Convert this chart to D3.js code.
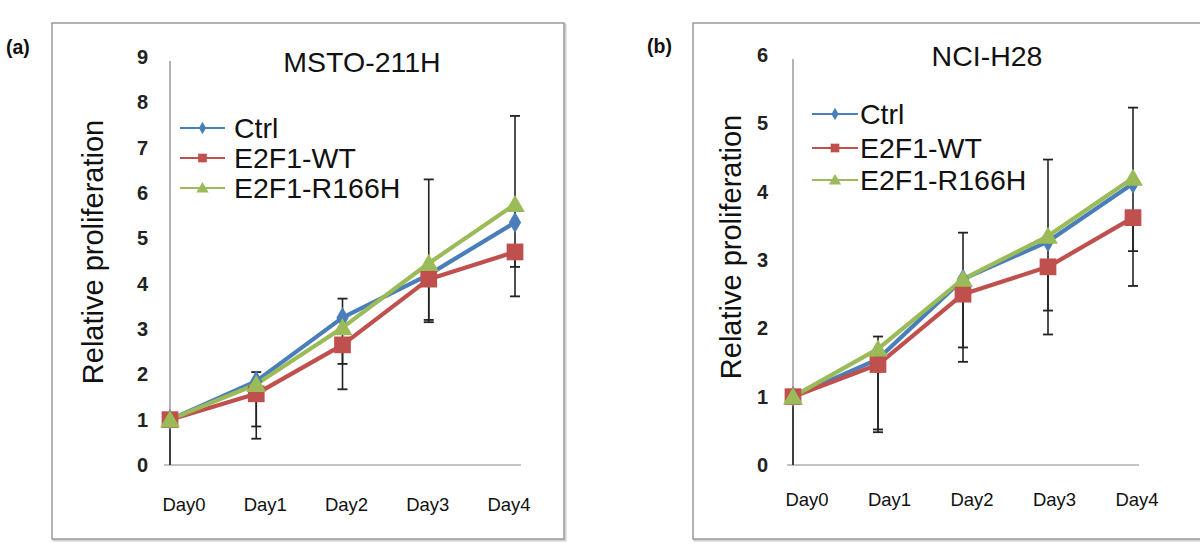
<!DOCTYPE html>
<html><head><meta charset="utf-8">
<script src="https://cdn.jsdelivr.net/npm/d3@7"></script>
<style>body{margin:0;background:#fff}svg{display:block}</style>
</head><body>
<svg id="c" width="1200" height="556"></svg>
<script>
// ---------- data ----------
const days = ["Day0", "Day1", "Day2", "Day3", "Day4"];
const seriesNames = ["Ctrl", "E2F1-WT", "E2F1-R166H"];
const yTicksA = [0, 1, 2, 3, 4, 5, 6, 7, 8, 9];
const yTicksB = [0, 1, 2, 3, 4, 5, 6];

// Panel (a) MSTO-211H
const ctrlA  = [1.00, 1.85, 3.25, 4.20, 5.35];
const wtA    = [1.00, 1.57, 2.65, 4.10, 4.70];
const r166A  = [1.00, 1.78, 3.03, 4.45, 5.75];
const ctrlUpA   = [0.00, 0.20, 0.42, 2.10, 2.35];
const wtDownA   = [1.00, 0.72, 0.42, 0.90, 0.98];
const r166DownA = [0.00, 1.20, 1.36, 1.30, 1.38];

// Panel (b) NCI-H28
const ctrlB  = [1.00, 1.55, 2.72, 3.27, 4.12];
const wtB    = [1.00, 1.47, 2.50, 2.90, 3.62];
const r166B  = [1.00, 1.70, 2.72, 3.35, 4.20];
const ctrlUpB   = [0.00, 0.33, 0.68, 1.20, 1.11];
const wtDownB   = [1.00, 0.99, 0.99, 0.99, 1.00];
const r166DownB = [0.00, 1.18, 1.00, 1.09, 1.07];

// ---------- drawing ----------
const colors = ["#4a7ebb", "#c0504d", "#9bbb59"];
const shapes = [d3.symbolDiamond, d3.symbolSquare, d3.symbolTriangle];
const FONT = "'Liberation Sans', Arial, Helvetica, sans-serif";
const svg = d3.select("#c");

function panel(cfg) {
  const g = svg.append("g");
  // frame
  g.append("rect").attr("x", cfg.frame[0] + 1.5).attr("y", cfg.frame[1] + 1.5)
    .attr("width", cfg.frame[2]).attr("height", cfg.frame[3])
    .attr("fill", "none").attr("stroke", "#d0d0d0").attr("stroke-width", 2);
  g.append("rect").attr("x", cfg.frame[0]).attr("y", cfg.frame[1])
    .attr("width", cfg.frame[2]).attr("height", cfg.frame[3])
    .attr("fill", "#fff").attr("stroke", "#8a8a8a").attr("stroke-width", 1.3);

  g.append("text").attr("x", cfg.tag[0]).attr("y", cfg.tag[1])
    .attr("font-family", FONT).attr("font-weight", "bold").attr("font-size", 19.5)
    .attr("fill", "#111").text(cfg.tagText);

  const x = d3.scalePoint().domain(days).range(cfg.xr);
  const xl = d3.scalePoint().domain(days).range(cfg.xlab);
  const y = d3.scaleLinear().domain([0, d3.max(cfg.ticks)]).range(cfg.yr);

  // x axis line
  g.append("line").attr("x1", cfg.xr[0] - 6).attr("x2", cfg.xr[1] + 6)
    .attr("y1", y(0)).attr("y2", y(0)).attr("stroke", "#c4c4c4").attr("stroke-width", 2);
  // y axis
  const ya = g.append("g").attr("transform", `translate(${cfg.xr[0]},0)`)
    .call(d3.axisLeft(y).tickValues(cfg.ticks).tickSize(0).tickPadding(cfg.tickPad).tickFormat(d3.format("d")));
  ya.attr("font-size", null).attr("font-family", null);
  ya.select(".domain").attr("stroke", "#9a9a9a").attr("stroke-width", 1.5)
    .attr("d", `M0,${y(0)}V${y(d3.max(cfg.ticks)) + cfg.axTopGap}`);
  ya.selectAll("text").attr("font-family", FONT).attr("font-weight", "bold")
    .attr("font-size", 20).attr("fill", "#222");

  // x labels
  g.selectAll(".xl").data(days).join("text")
    .attr("x", d => xl(d)).attr("y", cfg.xlabY).attr("text-anchor", "middle")
    .attr("font-family", FONT).attr("font-size", 18.5).attr("fill", "#111").text(d => d);

  // titles
  g.append("text").attr("x", cfg.title[0]).attr("y", cfg.title[1]).attr("text-anchor", "middle")
    .attr("font-family", FONT).attr("font-size", 28.5).attr("fill", "#111").text(cfg.titleText);
  g.append("text").attr("transform", `translate(${cfg.ytitle[0]},${cfg.ytitle[1]}) rotate(-90)`)
    .attr("text-anchor", "middle").attr("font-family", FONT).attr("font-size", 29)
    .attr("fill", "#111").text("Relative proliferation");

  // error bars
  const errs = [];
  cfg.series.forEach((s, i) => {
    s.vals.forEach((v, j) => {
      if (s.up && s.up[j] > 0) errs.push({ d: days[j], v: v, e: v + s.up[j], cap: true });
      if (s.down && s.down[j] > 0) errs.push({ d: days[j], v: v, e: v - s.down[j], cap: j > 0 });
    });
  });
  g.selectAll(".eb").data(errs).join("line")
    .attr("x1", d => x(d.d)).attr("x2", d => x(d.d))
    .attr("y1", d => y(d.v)).attr("y2", d => y(d.e))
    .attr("stroke", "#222").attr("stroke-width", 1.6);
  g.selectAll(".ec").data(errs.filter(d => d.cap)).join("line")
    .attr("x1", d => x(d.d) - 5).attr("x2", d => x(d.d) + 5)
    .attr("y1", d => y(d.e)).attr("y2", d => y(d.e))
    .attr("stroke", "#222").attr("stroke-width", 1.8);

  // lines + markers
  const line = d3.line().x((d, j) => x(days[j])).y(d => y(d));
  cfg.series.forEach((s, i) => {
    g.append("path").datum(s.vals).attr("d", line).attr("fill", "none")
      .attr("stroke", colors[i]).attr("stroke-width", 4.2).attr("stroke-linejoin", "round");
  });
  const sizes = [130, 280, 170];
  cfg.series.forEach((s, i) => {
    g.selectAll(null).data(s.vals).join("path")
      .attr("transform", (d, j) => `translate(${x(days[j])},${y(d) + (i === 2 ? 2 : 0)})`)
      .attr("d", d3.symbol().type(shapes[i]).size(sizes[i])).attr("fill", colors[i]);
  });

  // legend
  const lg = g.append("g");
  seriesNames.forEach((n, i) => {
    const ly = cfg.leg.y[i];
    lg.append("line").attr("x1", cfg.leg.x0).attr("x2", cfg.leg.x1).attr("y1", ly).attr("y2", ly)
      .attr("stroke", colors[i]).attr("stroke-width", 2.2);
    lg.append("path").attr("transform", `translate(${(cfg.leg.x0 + cfg.leg.x1) / 2},${ly + (i === 2 ? 1 : 0)})`)
      .attr("d", d3.symbol().type(shapes[i]).size([45, 75, 65][i])).attr("fill", colors[i]);
    lg.append("text").attr("x", cfg.leg.tx).attr("y", ly + 10).attr("font-family", FONT)
      .attr("font-size", 28.5).attr("fill", "#111").text(n);
  });
}

panel({
  frame: [52, 23, 512, 516], tag: [6, 54], tagText: "(a)",
  xr: [170, 515], xlab: [184, 509], xlabY: 511, yr: [465, 57], ticks: yTicksA, tickPad: 22, axTopGap: 4,
  title: [362, 72], titleText: "MSTO-211H", ytitle: [103, 252],
  series: [{ vals: ctrlA, up: ctrlUpA }, { vals: wtA, down: wtDownA }, { vals: r166A, down: r166DownA }],
  leg: { x0: 180, x1: 225, tx: 234, y: [128, 158, 188] }
});
panel({
  frame: [693, 23, 520, 516], tag: [647, 53], tagText: "(b)",
  xr: [793, 1133], xlab: [807, 1137], xlabY: 506, yr: [465, 55], ticks: yTicksB, tickPad: 25, axTopGap: 4,
  title: [987, 66], titleText: "NCI-H28", ytitle: [741, 247],
  series: [{ vals: ctrlB, up: ctrlUpB }, { vals: wtB, down: wtDownB }, { vals: r166B, down: r166DownB }],
  leg: { x0: 812, x1: 858, tx: 860, y: [114, 148, 180] }
});
</script>
</body></html>
